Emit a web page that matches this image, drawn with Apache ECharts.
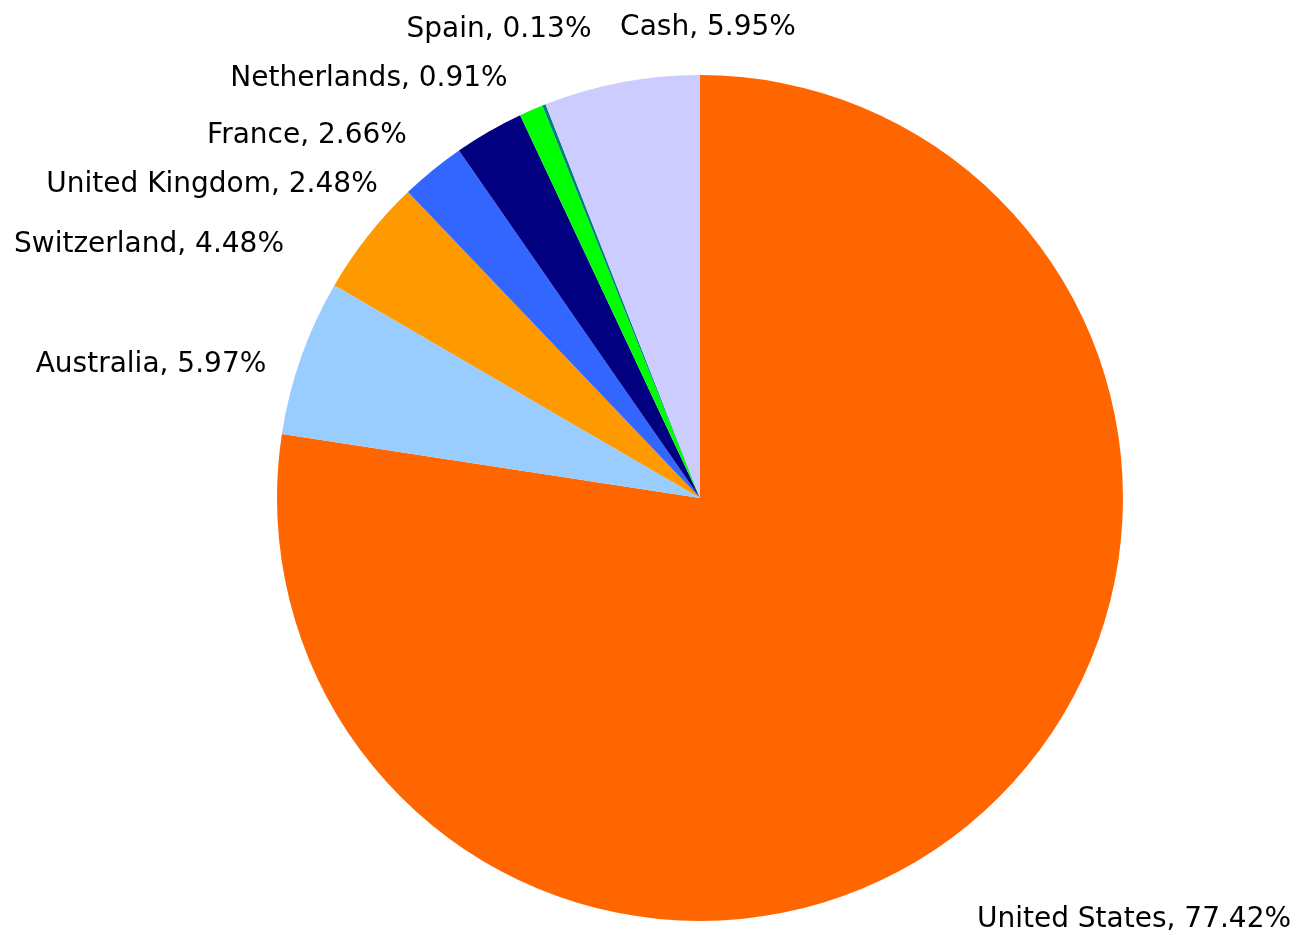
<!DOCTYPE html>
<html>
<head>
<meta charset="utf-8">
<script src="https://cdn.jsdelivr.net/npm/echarts@6/dist/echarts.min.js"></script>
<style>
  html, body { margin: 0; padding: 0; background: #ffffff; }
  #chart { width: 1297px; height: 935px; }
</style>
</head>
<body>
<div id="chart"></div>
<script>
// Portfolio allocation by country (percent of holdings)
const countries = ['United States', 'Australia', 'Switzerland', 'United Kingdom', 'France', 'Netherlands', 'Spain', 'Cash'];
const weights = [77.42, 5.97, 4.48, 2.48, 2.66, 0.91, 0.13, 5.95];
const sliceColors = ['#ff6600', '#99ccff', '#ff9900', '#3366ff', '#000080', '#00ff00', '#008080', '#ccccff'];

// Where each label's centre sits on the page (same order as countries)
const labelSpots = [
  [1134, 920], [151, 365], [149, 245], [212, 185],
  [307, 136], [369, 79], [499, 30], [708, 28]
];

const chart = echarts.init(document.getElementById('chart'), null, { renderer: 'canvas' });

chart.setOption({
  animation: false,
  backgroundColor: '#ffffff',
  series: [{
    type: 'pie',
    center: [700, 498],
    radius: 423,
    startAngle: 90,
    clockwise: true,
    avoidLabelOverlap: false,
    itemStyle: { borderWidth: 0 },
    label: {
      show: true,
      position: 'outside',
      formatter: p => p.name + ', ' + weights[p.dataIndex].toFixed(2) + '%',
      fontFamily: 'DejaVu Sans',
      fontSize: 28,
      color: '#000000'
    },
    labelLine: { show: false },
    labelLayout: p => ({
      x: labelSpots[p.dataIndex][0],
      y: labelSpots[p.dataIndex][1],
      align: 'center',
      verticalAlign: 'middle'
    }),
    emphasis: { disabled: true },
    data: countries.map((c, i) => ({
      name: c,
      value: weights[i],
      itemStyle: { color: sliceColors[i] }
    }))
  }]
});
</script>
</body>
</html>
